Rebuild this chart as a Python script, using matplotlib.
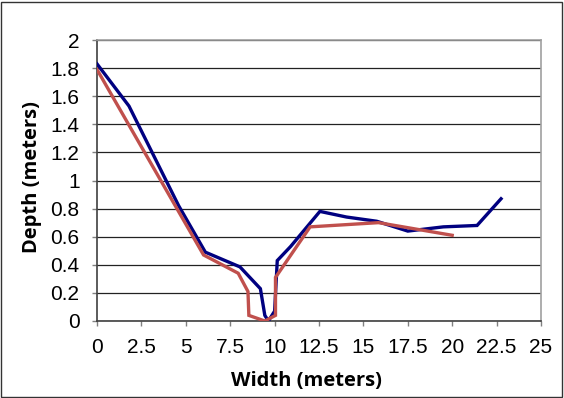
import matplotlib
matplotlib.use("Agg")
import matplotlib.pyplot as plt
from matplotlib.patches import Rectangle

# Cross-section survey 1 (blue)
width_a = [0, 1.8, 4.6, 6.1, 8.05, 9.2, 9.45, 9.65, 10.0, 10.15, 10.9, 12.55, 14.05, 15.75, 17.5, 19.5, 21.4, 22.75]
depth_a = [1.83, 1.53, 0.82, 0.49, 0.385, 0.23, 0.04, 0.0, 0.07, 0.43, 0.53, 0.78, 0.74, 0.71, 0.64, 0.67, 0.68, 0.87]

# Cross-section survey 2 (red)
width_b = [0, 6.0, 7.95, 8.5, 8.55, 9.45, 10.05, 10.05, 12.0, 15.85, 20.0]
depth_b = [1.79, 0.47, 0.34, 0.21, 0.04, 0.0, 0.04, 0.31, 0.67, 0.70, 0.61]

x_ticks = [0, 2.5, 5, 7.5, 10, 12.5, 15, 17.5, 20, 22.5, 25]
x_tick_labels = ['0', '2.5', '5', '7.5', '10', '12.5', '15', '17.5', '20', '22.5', '25']
y_ticks = [0, 0.2, 0.4, 0.6, 0.8, 1, 1.2, 1.4, 1.6, 1.8, 2]
y_tick_labels = ['0', '0.2', '0.4', '0.6', '0.8', '1', '1.2', '1.4', '1.6', '1.8', '2']

fig = plt.figure(figsize=(5.64, 3.98), dpi=100)
ax = fig.add_axes([97/564, 1 - 321/398, 444/564, 281/398])

ax.plot(width_a, depth_a, color='#000080', lw=2.4, solid_joinstyle='miter', zorder=3)
ax.plot(width_b, depth_b, color='#C0504D', lw=2.4, solid_joinstyle='miter', zorder=3)

ax.set_xlim(0, 25)
ax.set_ylim(0, 2)
ax.set_xticks(x_ticks)
ax.set_xticklabels(x_tick_labels, fontfamily='Liberation Sans', fontsize=15)
ax.set_yticks(y_ticks)
ax.set_yticklabels(y_tick_labels, fontfamily='Liberation Sans', fontsize=15)
ax.tick_params(direction='out', length=3.6, width=1, color='#808080')
ax.tick_params(axis='x', pad=8.5)
ax.tick_params(axis='y', pad=9)
ax.grid(axis='y', color='#222222', lw=0.9)
ax.set_axisbelow(True)

for side in ['top', 'right']:
    ax.spines[side].set_color('#a0a0a0')
    ax.spines[side].set_linewidth(1.2)
for side in ['left', 'bottom']:
    ax.spines[side].set_color('#404040')
    ax.spines[side].set_linewidth(1.2)

fig.text(306.5/564, 1 - 386/398, 'Width (meters)', fontfamily='Open Sans', fontweight='bold',
         fontsize=14.5, ha='center', va='baseline')
fig.text(42/564, 1 - 177/398, 'Depth (meters)', fontfamily='Open Sans', fontweight='bold',
         fontsize=14.5, ha='right', va='center', rotation=90)

fig.patches.append(Rectangle((1/564, 1/398), 561/564, 395/398, transform=fig.transFigure,
                             fill=False, edgecolor='#333333', lw=1))

fig.savefig('out.png', dpi=100)
